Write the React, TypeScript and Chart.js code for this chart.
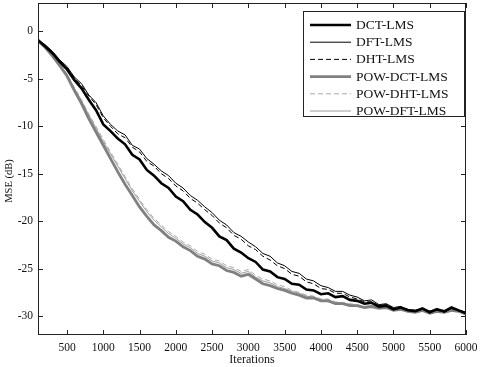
import { useEffect, useRef } from "react";
import { Chart, registerables } from "chart.js";

Chart.register(...registerables);

const iterations = [
  100, 200, 300, 400, 500, 600, 700, 800, 900, 1000,
  1100, 1200, 1300, 1400, 1500, 1600, 1700, 1800, 1900, 2000,
  2100, 2200, 2300, 2400, 2500, 2600, 2700, 2800, 2900, 3000,
  3100, 3200, 3300, 3400, 3500, 3600, 3700, 3800, 3900, 4000,
  4100, 4200, 4300, 4400, 4500, 4600, 4700, 4800, 4900, 5000,
  5100, 5200, 5300, 5400, 5500, 5600, 5700, 5800, 5900, 6000,
];

const dctLms = [
  -0.9, -1.6, -2.3, -3.2, -4.0, -5.1, -6.0, -7.2, -8.3, -9.8,
  -10.5, -11.3, -11.9, -13.0, -13.5, -14.6, -15.2, -16.0, -16.5, -17.4,
  -17.9, -18.8, -19.3, -20.1, -20.7, -21.6, -22.0, -22.9, -23.3, -23.9,
  -24.3, -25.1, -25.3, -25.9, -26.1, -26.6, -26.7, -27.2, -27.3, -27.7,
  -27.6, -28.0, -27.9, -28.3, -28.4, -28.7, -28.6, -29.0, -28.9, -29.3,
  -29.1, -29.4, -29.5, -29.2, -29.6, -29.3, -29.5, -29.1, -29.4, -29.7,
];

const dftLms = [
  -0.9, -1.4, -2.1, -3.0, -3.7, -4.8, -5.5, -6.7, -7.5, -8.9,
  -9.8, -10.5, -10.9, -12.0, -12.4, -13.4, -14.0, -14.7, -15.2, -16.0,
  -16.5, -17.3, -17.8, -18.5, -19.1, -19.9, -20.4, -21.2, -21.6, -22.2,
  -22.7, -23.4, -23.7, -24.4, -24.7, -25.3, -25.5, -26.1, -26.3, -26.8,
  -27.0, -27.4, -27.4, -27.8, -28.0, -28.4, -28.3, -28.8, -28.7, -29.1,
  -29.0, -29.3, -29.4, -29.2, -29.5, -29.2, -29.6, -29.2, -29.4, -29.6,
];

const dhtLms = [
  -0.9, -1.5, -2.2, -3.1, -3.8, -4.9, -5.7, -6.8, -7.7, -9.1,
  -10.0, -10.8, -11.2, -12.2, -12.7, -13.7, -14.2, -15.0, -15.5, -16.3,
  -16.8, -17.6, -18.1, -18.8, -19.4, -20.2, -20.7, -21.5, -21.9, -22.6,
  -23.0, -23.7, -24.1, -24.7, -25.0, -25.6, -25.8, -26.4, -26.6, -27.1,
  -27.2, -27.6, -27.6, -28.0, -28.2, -28.5, -28.5, -28.9, -28.8, -29.2,
  -29.0, -29.3, -29.4, -29.3, -29.5, -29.3, -29.6, -29.2, -29.5, -29.6,
];

const powDctLms = [
  -1.0, -1.7, -2.6, -3.6, -4.7, -6.2, -7.6, -9.2, -10.6, -12.0,
  -13.4, -14.8, -16.1, -17.3, -18.5, -19.5, -20.4, -21.0, -21.7, -22.1,
  -22.7, -23.1, -23.7, -24.0, -24.5, -24.7, -25.2, -25.4, -25.8, -25.6,
  -26.1, -26.6, -26.8, -27.1, -27.3, -27.6, -27.8, -28.1, -28.1, -28.4,
  -28.4, -28.7, -28.7, -28.9, -28.9, -29.1, -29.0, -29.2, -29.1, -29.4,
  -29.3, -29.5, -29.6, -29.4, -29.7, -29.5, -29.6, -29.4, -29.5, -29.8,
];

const powDhtLms = [
  -0.9, -1.6, -2.5, -3.4, -4.5, -5.9, -7.2, -8.7, -10.0, -11.4,
  -12.7, -14.0, -15.3, -16.6, -17.7, -18.8, -19.7, -20.4, -21.1, -21.6,
  -22.2, -22.6, -23.2, -23.5, -24.0, -24.2, -24.7, -24.9, -25.3, -25.1,
  -25.7, -26.1, -26.3, -26.7, -26.9, -27.3, -27.5, -27.8, -27.9, -28.2,
  -28.2, -28.5, -28.6, -28.7, -28.8, -29.0, -28.9, -29.1, -29.0, -29.3,
  -29.3, -29.4, -29.5, -29.4, -29.6, -29.5, -29.6, -29.4, -29.5, -29.7,
];

const powDftLms = [
  -0.9, -1.6, -2.5, -3.5, -4.6, -6.0, -7.3, -8.8, -10.2, -11.6,
  -12.9, -14.2, -15.5, -16.8, -17.9, -19.0, -19.9, -20.6, -21.3, -21.8,
  -22.4, -22.8, -23.4, -23.7, -24.2, -24.4, -24.9, -25.1, -25.5, -25.3,
  -25.9, -26.3, -26.5, -26.9, -27.1, -27.4, -27.6, -27.9, -28.0, -28.3,
  -28.3, -28.6, -28.6, -28.8, -28.9, -29.0, -29.0, -29.2, -29.1, -29.3,
  -29.3, -29.5, -29.5, -29.4, -29.6, -29.5, -29.6, -29.4, -29.5, -29.8,
];

const seriesLabels = ["DCT-LMS", "DFT-LMS", "DHT-LMS", "POW-DCT-LMS", "POW-DHT-LMS", "POW-DFT-LMS"];

const xTickValues = [500, 1000, 1500, 2000, 2500, 3000, 3500, 4000, 4500, 5000, 5500, 6000];
const yTickValues = [0, -5, -10, -15, -20, -25, -30];

const xTitle = "Iterations";
const yTitle = "MSE (dB)";

const SERIF = "'Liberation Serif', 'Times New Roman', serif";

const framePlugin = {
  id: "frame",
  afterDatasetsDraw(chart: any) {
    const { ctx, chartArea: a, scales } = chart;
    ctx.save();
    ctx.strokeStyle = "#222";
    ctx.lineWidth = 1;
    ctx.strokeRect(a.left + 0.5, a.top + 0.5, a.right - a.left - 1, a.bottom - a.top - 1);
    ctx.beginPath();
    const tl = 5;
    for (const v of xTickValues) {
      const px = Math.round(scales.x.getPixelForValue(v)) + 0.5;
      ctx.moveTo(px, a.bottom);
      ctx.lineTo(px, a.bottom - tl);
      ctx.moveTo(px, a.top);
      ctx.lineTo(px, a.top + tl);
    }
    for (const v of yTickValues) {
      const py = Math.round(scales.y.getPixelForValue(v)) + 0.5;
      ctx.moveTo(a.left, py);
      ctx.lineTo(a.left + tl, py);
      ctx.moveTo(a.right, py);
      ctx.lineTo(a.right - tl, py);
    }
    ctx.stroke();
    // y axis title
    ctx.fillStyle = "#111";
    ctx.font = `10.5px ${SERIF}`;
    ctx.textAlign = "center";
    ctx.textBaseline = "middle";
    ctx.translate(9, 181);
    ctx.rotate(-Math.PI / 2);
    ctx.fillText(yTitle, 0, 0);
    ctx.restore();
  },
};

const legendBoxPlugin = {
  id: "legendBox",
  afterDraw(chart: any) {
    const { ctx } = chart;
    const box = { left: 303.5, top: 11.5, right: 464.5, bottom: 116.5 };
    ctx.save();
    ctx.fillStyle = "#fff";
    ctx.fillRect(box.left, box.top, box.right - box.left, box.bottom - box.top);
    ctx.strokeStyle = "#222";
    ctx.lineWidth = 1;
    ctx.strokeRect(box.left, box.top, box.right - box.left, box.bottom - box.top);
    ctx.font = `13.5px ${SERIF}`;
    ctx.textBaseline = "middle";
    ctx.textAlign = "left";
    chart.data.datasets.forEach((ds: any, i: number) => {
      const y = 25 + i * 17.2;
      ctx.beginPath();
      ctx.strokeStyle = ds.borderColor;
      ctx.lineWidth = ds.borderWidth;
      ctx.setLineDash(ds.borderDash || []);
      ctx.moveTo(310, y);
      ctx.lineTo(351, y);
      ctx.stroke();
      ctx.setLineDash([]);
      ctx.fillStyle = "#111";
      ctx.fillText(ds.label, 356, y + 0.5);
    });
    ctx.restore();
  },
};

export default function App() {
  const ref = useRef<HTMLCanvasElement>(null);

  useEffect(() => {
    const canvas = ref.current;
    if (!canvas) return;
    const pts = (vals: number[]) => iterations.map((x, i) => ({ x, y: vals[i] }));
    const styles = [
      { color: "#000000", width: 2.6, dash: [] as number[] },
      { color: "#000000", width: 1, dash: [] as number[] },
      { color: "#000000", width: 1, dash: [5, 3] },
      { color: "#808080", width: 2.8, dash: [] as number[] },
      { color: "#a8a8a8", width: 1, dash: [5, 3] },
      { color: "#9c9c9c", width: 1, dash: [] as number[] },
    ];
    const values = [dctLms, dftLms, dhtLms, powDctLms, powDhtLms, powDftLms];
    const chart = new Chart(canvas, {
      type: "line",
      data: {
        datasets: values.map((v, i) => ({
          label: seriesLabels[i],
          data: pts(v),
          borderColor: styles[i].color,
          borderWidth: styles[i].width,
          borderDash: styles[i].dash,
          pointRadius: 0,
          tension: 0,
          fill: false,
        })),
      },
      options: {
        responsive: false,
        animation: false,
        layout: { padding: { top: 3, right: 14, left: 0, bottom: 0 } },
        plugins: {
          legend: { display: false },
          tooltip: { enabled: false },
        },
        scales: {
          x: {
            type: "linear",
            min: 100,
            max: 6000,
            grid: { display: false, drawTicks: false },
            border: { display: false },
            afterBuildTicks: (s: any) => {
              s.ticks = xTickValues.map((v) => ({ value: v }));
            },
            afterFit: (s: any) => {
              s.height = 32;
              s.paddingLeft = 0;
              s.paddingRight = 0;
            },
            ticks: {
              padding: 6,
              maxRotation: 0,
              autoSkip: false,
              color: "#111",
              font: { family: SERIF, size: 11.5 },
              callback: (v: any) => String(v),
            },
            title: {
              display: true,
              text: xTitle,
              color: "#111",
              font: { family: SERIF, size: 12 },
              padding: { top: 0, bottom: 0 },
            },
          },
          y: {
            type: "linear",
            min: -32,
            max: 3,
            grid: { display: false, drawTicks: false },
            border: { display: false },
            afterBuildTicks: (s: any) => {
              s.ticks = yTickValues.map((v) => ({ value: v }));
            },
            afterFit: (s: any) => {
              s.width = 38;
              s.paddingTop = 0;
              s.paddingBottom = 0;
            },
            ticks: {
              padding: 5,
              autoSkip: false,
              color: "#111",
              font: { family: SERIF, size: 11.5 },
              callback: (v: any) => String(v),
            },
          },
        },
      },
      plugins: [framePlugin, legendBoxPlugin],
    });
    return () => chart.destroy();
  }, []);

  return (
    <div style={{ position: "fixed", left: 0, top: 0, width: 480, height: 367, background: "#fff" }}>
      <canvas ref={ref} width={480} height={367} style={{ display: "block", width: 480, height: 367 }} />
    </div>
  );
}
